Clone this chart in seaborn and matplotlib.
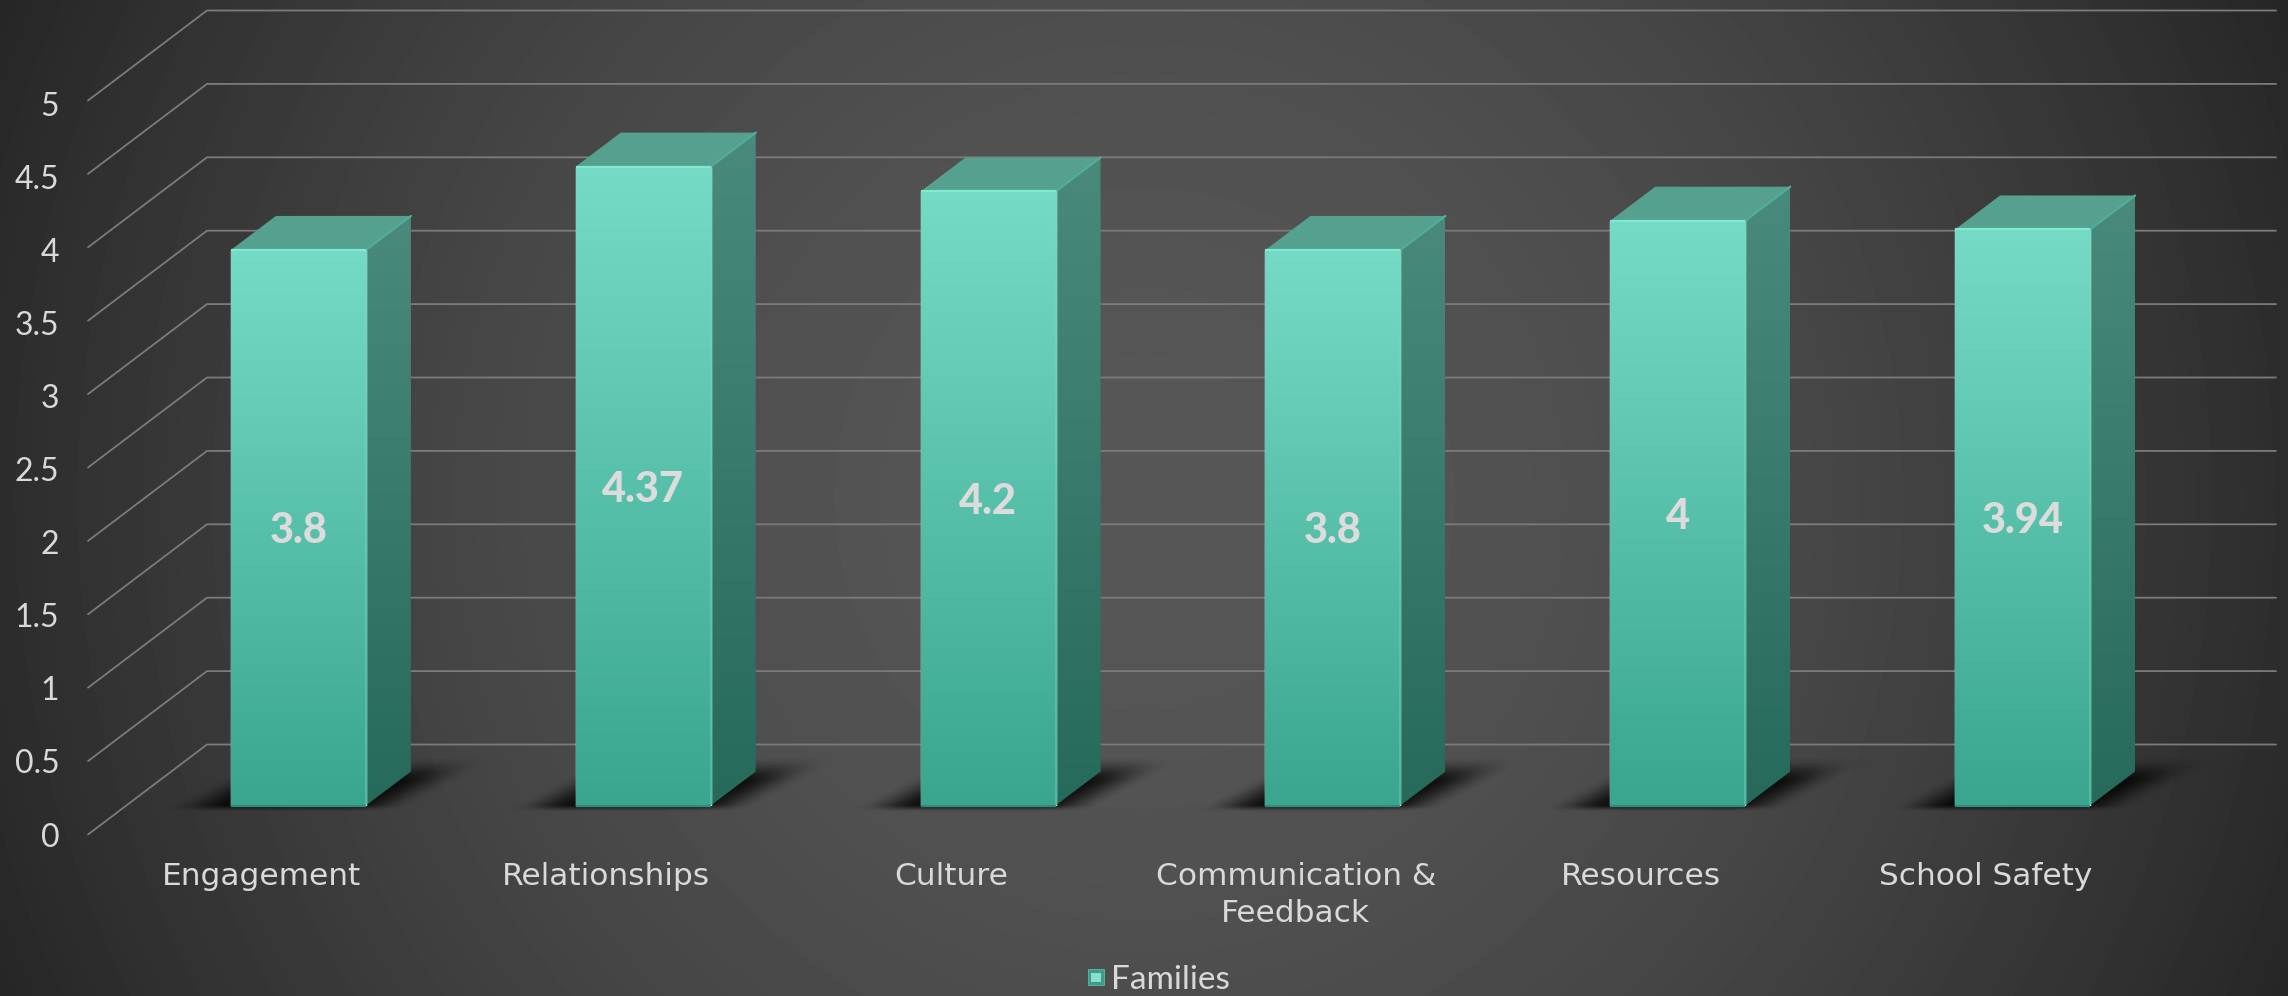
import numpy as np
import pandas as pd
import matplotlib
matplotlib.use("Agg")
import matplotlib.pyplot as plt
import seaborn as sns
from matplotlib.colors import to_rgb
from matplotlib.legend_handler import HandlerBase
from matplotlib.patches import Patch, Polygon, Rectangle
from matplotlib.transforms import ScaledTranslation

categorias = ["Engagement", "Relationships", "Culture", "Communication &\nFeedback", "Resources", "School Safety"]
valores = [3.8, 4.37, 4.2, 3.8, 4, 3.94]
serie = "Families"
ticks_y = [0, 0.5, 1, 1.5, 2, 2.5, 3, 3.5, 4, 4.5, 5]
etiquetas_y = ["0", "0.5", "1", "1.5", "2", "2.5", "3", "3.5", "4", "4.5", "5"]

W, H = 2288, 996
TEXTO = "#d9d9d9"

sns.set_theme(style="dark")
plt.rcParams["font.family"] = ["Lato", "DejaVu Sans"]

fig = plt.figure(figsize=(W / 100, H / 100), dpi=100)


def rampa(arriba, abajo, n=256):
    # gradiente vertical de dos colores
    a, b = np.array(to_rgb(arriba)), np.array(to_rgb(abajo))
    t = np.linspace(0, 1, n)[:, None, None]
    return a * (1 - t) + b * t


def suave(t):
    # transicion suave entre 0 y 1
    t = np.clip(t, 0, 1)
    return t * t * (3 - 2 * t)


# Fondo: eje en pixeles que ocupa toda la figura
fondo = fig.add_axes([0, 0, 1, 1], zorder=0)
fondo.axis("off")
yy, xx = np.mgrid[0:H, 0:W]
r = np.hypot(xx - W / 2, yy - H / 2) / np.hypot(W / 2, H / 2)
gris = np.floor(0x57 - 0x31 * r ** 1.8) / 255
fondo.imshow(gris, cmap="gray", vmin=0, vmax=1, extent=(0, W, 0, H), origin="upper", aspect="auto", zorder=0)

# Eje de las barras, transparente y encima del fondo
ax = fig.add_axes([126 / W, (H - 805.5) / H, 2069 / W, 731 / H], zorder=1)
ax.patch.set_alpha(0)

df = pd.DataFrame({"categoria": categorias, "valor": valores})
sns.barplot(data=df, x="categoria", y="valor", color="#5cc4ae", saturation=1, width=0.3915, legend=False, ax=ax)

ax.set_xlim(-0.5, 5.5)
ax.set_ylim(0, 5)
ax.set_xlabel("")
ax.set_ylabel("")
ax.set_yticks(ticks_y, etiquetas_y)
ax.grid(False)
sns.despine(ax=ax, left=True, bottom=True)
ax.tick_params(axis="x", length=0, pad=41, labelsize=22.5, colors=TEXTO)
ax.tick_params(axis="y", length=0, pad=48, labelsize=23, colors=TEXTO)

# Las etiquetas van corridas porque el grafico simula 3D
desp_x = ScaledTranslation(-37 / 100, 0, fig.dpi_scale_trans)
desp_y = ScaledTranslation(0, -29 / 100, fig.dpi_scale_trans)
for t in ax.get_xticklabels():
    t.set_transform(t.get_transform() + desp_x)
    t.set_linespacing(1.35)
    t.set_fontfamily("DejaVu Sans")
for t in ax.get_yticklabels():
    t.set_transform(t.get_transform() + desp_y)

# Rejilla: pared del fondo y diagonal del piso
for v in ticks_y:
    y0 = ax.transData.transform((0, v))[1] + v * 0.6
    fondo.plot([88, 207, 2276], [y0 - 29, y0 + 61, y0 + 61], color="#7b7b7b", lw=1.3, solid_joinstyle="miter", zorder=1)

prof_x, prof_y = 45, 34

for barra in ax.patches:
    x0, x1 = barra.get_x(), barra.get_x() + barra.get_width()
    alto = barra.get_height()
    (px0, py0), (px1, py1) = ax.transData.transform([(x0, 0), (x1, alto)])

    # sombra sobre el piso
    sx0, sx1 = px0 - 68, px1 + 42
    gx = np.arange(int(sx0) - 10, int(px1) + 170)
    gy = np.arange(int(py0) - 10, int(py0) + 60)
    mx, my = np.meshgrid(gx, gy)
    s = mx - (my - py0 + 3) * 1.85
    alfa = suave((s - sx0) / 62) * suave((sx1 - s) / 62)
    alfa = alfa * suave((my - py0 + 7) / 8) * suave((py0 + 50 - my) / 28)
    sombra = np.zeros(alfa.shape + (4,))
    sombra[..., 3] = alfa * 0.82
    fondo.imshow(sombra, extent=(gx[0], gx[-1], gy[0], gy[-1]), origin="lower", aspect="auto", zorder=2)

    # cara lateral
    lado = Polygon([(px1, py0), (px1 + prof_x, py0 + prof_y), (px1 + prof_x, py1 + prof_y), (px1, py1)], transform=fondo.transData)
    im = fondo.imshow(rampa("#4a8a7d", "#266a5c"), extent=(px1, px1 + prof_x, py0, py1 + prof_y), aspect="auto", zorder=3)
    im.set_clip_path(lado)

    # cara superior
    fondo.add_patch(Polygon([(px0, py1), (px1, py1), (px1 + prof_x, py1 + prof_y), (px0 + prof_x, py1 + prof_y)], color="#55a08f", lw=0, zorder=3))
    fondo.plot([px1, px1 + prof_x], [py1, py1 + prof_y], color="#4fae99", lw=1.6, zorder=4)

    # cara frontal con gradiente y bordes
    im = ax.imshow(rampa("#76dbc6", "#3aa68f"), extent=(x0, x1, 0, alto), aspect="auto", zorder=2)
    im.set_clip_path(barra)
    ax.plot([x0, x1], [alto, alto], color="#7fe9d2", lw=1.6, zorder=2.5, solid_capstyle="butt")
    ax.plot([x1, x1], [0, alto], color="#6fdcc5", lw=1.4, alpha=0.4, zorder=2.5, solid_capstyle="butt")
    ax.plot([x0, x1], [0, 0], color="#2f8c79", lw=1.6, zorder=2.5, clip_on=False, solid_capstyle="butt")

ax.set_xlim(-0.5, 5.5)
ax.set_ylim(0, 5)
fondo.set_xlim(0, W)
fondo.set_ylim(0, H)

etiquetas = ax.bar_label(ax.containers[0], labels=[f"{v:g}" for v in valores], label_type="center",
                         fontsize=30, fontweight="black", color="#dcdcdc", zorder=5)
for t in etiquetas:
    t.xyann = (0, -2.5)


# Cuadrito de la leyenda
class CuadroLeyenda(HandlerBase):
    def create_artists(self, legend, orig, xd, yd, w, h, fontsize, trans):
        lado = 11.5
        x, y = -xd + 0, -yd + (h - lado) / 2
        return [
            Rectangle((x, y), lado, lado, fc="#3f9c89", ec="#4fc0a8", lw=0.6, transform=trans),
            Rectangle((x + 2.5, y + 2.5), lado - 5, lado - 5, fc="#86e0cc", lw=0, transform=trans),
        ]


mano = Patch(label=serie)
ax.legend(handles=[mano], handler_map={Patch: CuadroLeyenda()}, loc="center left",
          bbox_to_anchor=(1088 / W, 16 / H), bbox_transform=fig.transFigure, frameon=False,
          fontsize=24, labelcolor=TEXTO, handlelength=0.65, handletextpad=0.05, borderpad=0, borderaxespad=0)

plt.savefig("out.png", dpi=100)
plt.close()
